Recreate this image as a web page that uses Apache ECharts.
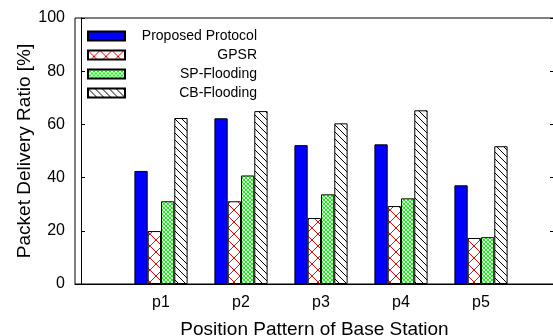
<!DOCTYPE html>
<html>
<head>
<meta charset="utf-8">
<script src="https://cdn.jsdelivr.net/npm/echarts@6/dist/echarts.min.js"></script>
<style>
  html, body { margin: 0; padding: 0; background: #fff; }
  #c1 { width: 553px; height: 336px; }
</style>
</head>
<body>
<div id="c1"></div>
<script>
// data
var patterns = ['p1', 'p2', 'p3', 'p4', 'p5'];
var positions = [1, 2, 3, 4, 5];
var proposed = [42.5, 62.3, 52.2, 52.5, 37.1];
var gpsr = [19.9, 31.1, 24.8, 29.3, 17.3];
var spFlooding = [31.1, 40.8, 33.7, 32.2, 17.6];
var cbFlooding = [62.4, 65.0, 60.4, 65.3, 51.8];
var seriesNames = ['Proposed Protocol', 'GPSR', 'SP-Flooding', 'CB-Flooding'];
var yTicks = [0, 20, 40, 60, 80, 100];

function makePattern(size, bg, stroke, lw, draw) {
  var c = document.createElement('canvas');
  c.width = size; c.height = size;
  var ctx = c.getContext('2d');
  ctx.fillStyle = bg;
  ctx.fillRect(0, 0, size, size);
  ctx.strokeStyle = stroke;
  ctx.lineWidth = lw;
  draw(ctx, size);
  return { image: c, repeat: 'repeat' };
}

var redCross = makePattern(12, '#ffffff', '#ff0000', 1, function (ctx, s) {
  ctx.beginPath();
  ctx.moveTo(0, 0); ctx.lineTo(s, s);
  ctx.moveTo(s, 0); ctx.lineTo(0, s);
  ctx.stroke();
});
var greenCross = makePattern(4, '#ffffff', '#00ff00', 1, function (ctx, s) {
  ctx.beginPath();
  ctx.moveTo(0, 0); ctx.lineTo(s, s);
  ctx.moveTo(s, 0); ctx.lineTo(0, s);
  ctx.stroke();
});
var blackHatch = makePattern(7, '#ffffff', '#000000', 1, function (ctx, s) {
  ctx.beginPath();
  ctx.moveTo(-1, -1); ctx.lineTo(s + 1, s + 1);
  ctx.moveTo(-1, s - 1); ctx.lineTo(1, s + 1);
  ctx.moveTo(s - 1, -1); ctx.lineTo(s + 1, 1);
  ctx.stroke();
});

function pairs(vals) {
  return vals.map(function (v, i) { return [positions[i], v]; });
}

var chartDom = document.getElementById('c1');
var myChart = echarts.init(chartDom);
var fontFam = '"Liberation Sans", Arial, sans-serif';

function barSeries(name, vals, fill) {
  return {
    name: name,
    type: 'bar',
    barWidth: 13.3,
    barGap: '0%',
    itemStyle: { color: fill, borderColor: '#000', borderWidth: 1 },
    emphasis: { disabled: true },
    data: pairs(vals)
  };
}

var option = {
  animation: false,
  textStyle: { fontFamily: fontFam },
  grid: {
    left: 75, top: 18, width: 479, height: 266,
    containLabel: false, outerBoundsMode: 'none',
    show: true, borderColor: '#000', borderWidth: 1
  },
  legend: {
    orient: 'vertical',
    left: 82,
    top: 24,
    icon: 'rect',
    itemWidth: 37,
    itemHeight: 9,
    itemGap: 5,
    data: seriesNames,
    formatter: function (n) { return '{t|' + n + '}'; },
    textStyle: {
      fontSize: 14,
      color: '#000',
      rich: { t: { width: 127, align: 'right', fontSize: 14, lineHeight: 14, fontFamily: fontFam } }
    }
  },
  xAxis: {
    type: 'value',
    min: -0.075,
    max: 5.9125,
    splitLine: { show: false },
    axisLine: { show: true, onZero: false, lineStyle: { color: '#000' } },
    axisTick: { show: false },
    axisLabel: {
      customValues: positions,
      formatter: function (v) { return patterns[positions.indexOf(v)] || ''; },
      fontSize: 16,
      color: '#000',
      margin: 11
    },
    name: 'Position Pattern of Base Station',
    nameLocation: 'middle',
    nameGap: 36,
    nameTextStyle: { fontSize: 19, color: '#000' }
  },
  yAxis: [{
    type: 'value',
    min: 0,
    max: 100,
    interval: 20,
    splitLine: { show: false },
    axisLine: { show: true, lineStyle: { color: '#000' } },
    axisTick: { show: true, inside: true, length: 4, lineStyle: { color: '#000' } },
    axisLabel: {
      customValues: yTicks,
      fontSize: 16,
      color: '#000',
      margin: 10
    },
    name: 'Packet Delivery Ratio [%]',
    nameLocation: 'middle',
    nameGap: 41,
    nameMoveOverlap: false,
    nameTextStyle: { fontSize: 19, color: '#000' }
  }, {
    type: 'value',
    position: 'right',
    min: 0,
    max: 100,
    interval: 20,
    splitLine: { show: false },
    axisLine: { show: false },
    axisTick: { show: true, inside: true, length: 4, lineStyle: { color: '#000' } },
    axisLabel: { show: false }
  }],
  series: [
    barSeries(seriesNames[0], proposed, '#0000ff'),
    barSeries(seriesNames[1], gpsr, redCross),
    barSeries(seriesNames[2], spFlooding, greenCross),
    barSeries(seriesNames[3], cbFlooding, blackHatch)
  ]
};
myChart.setOption(option);
</script>
</body>
</html>
